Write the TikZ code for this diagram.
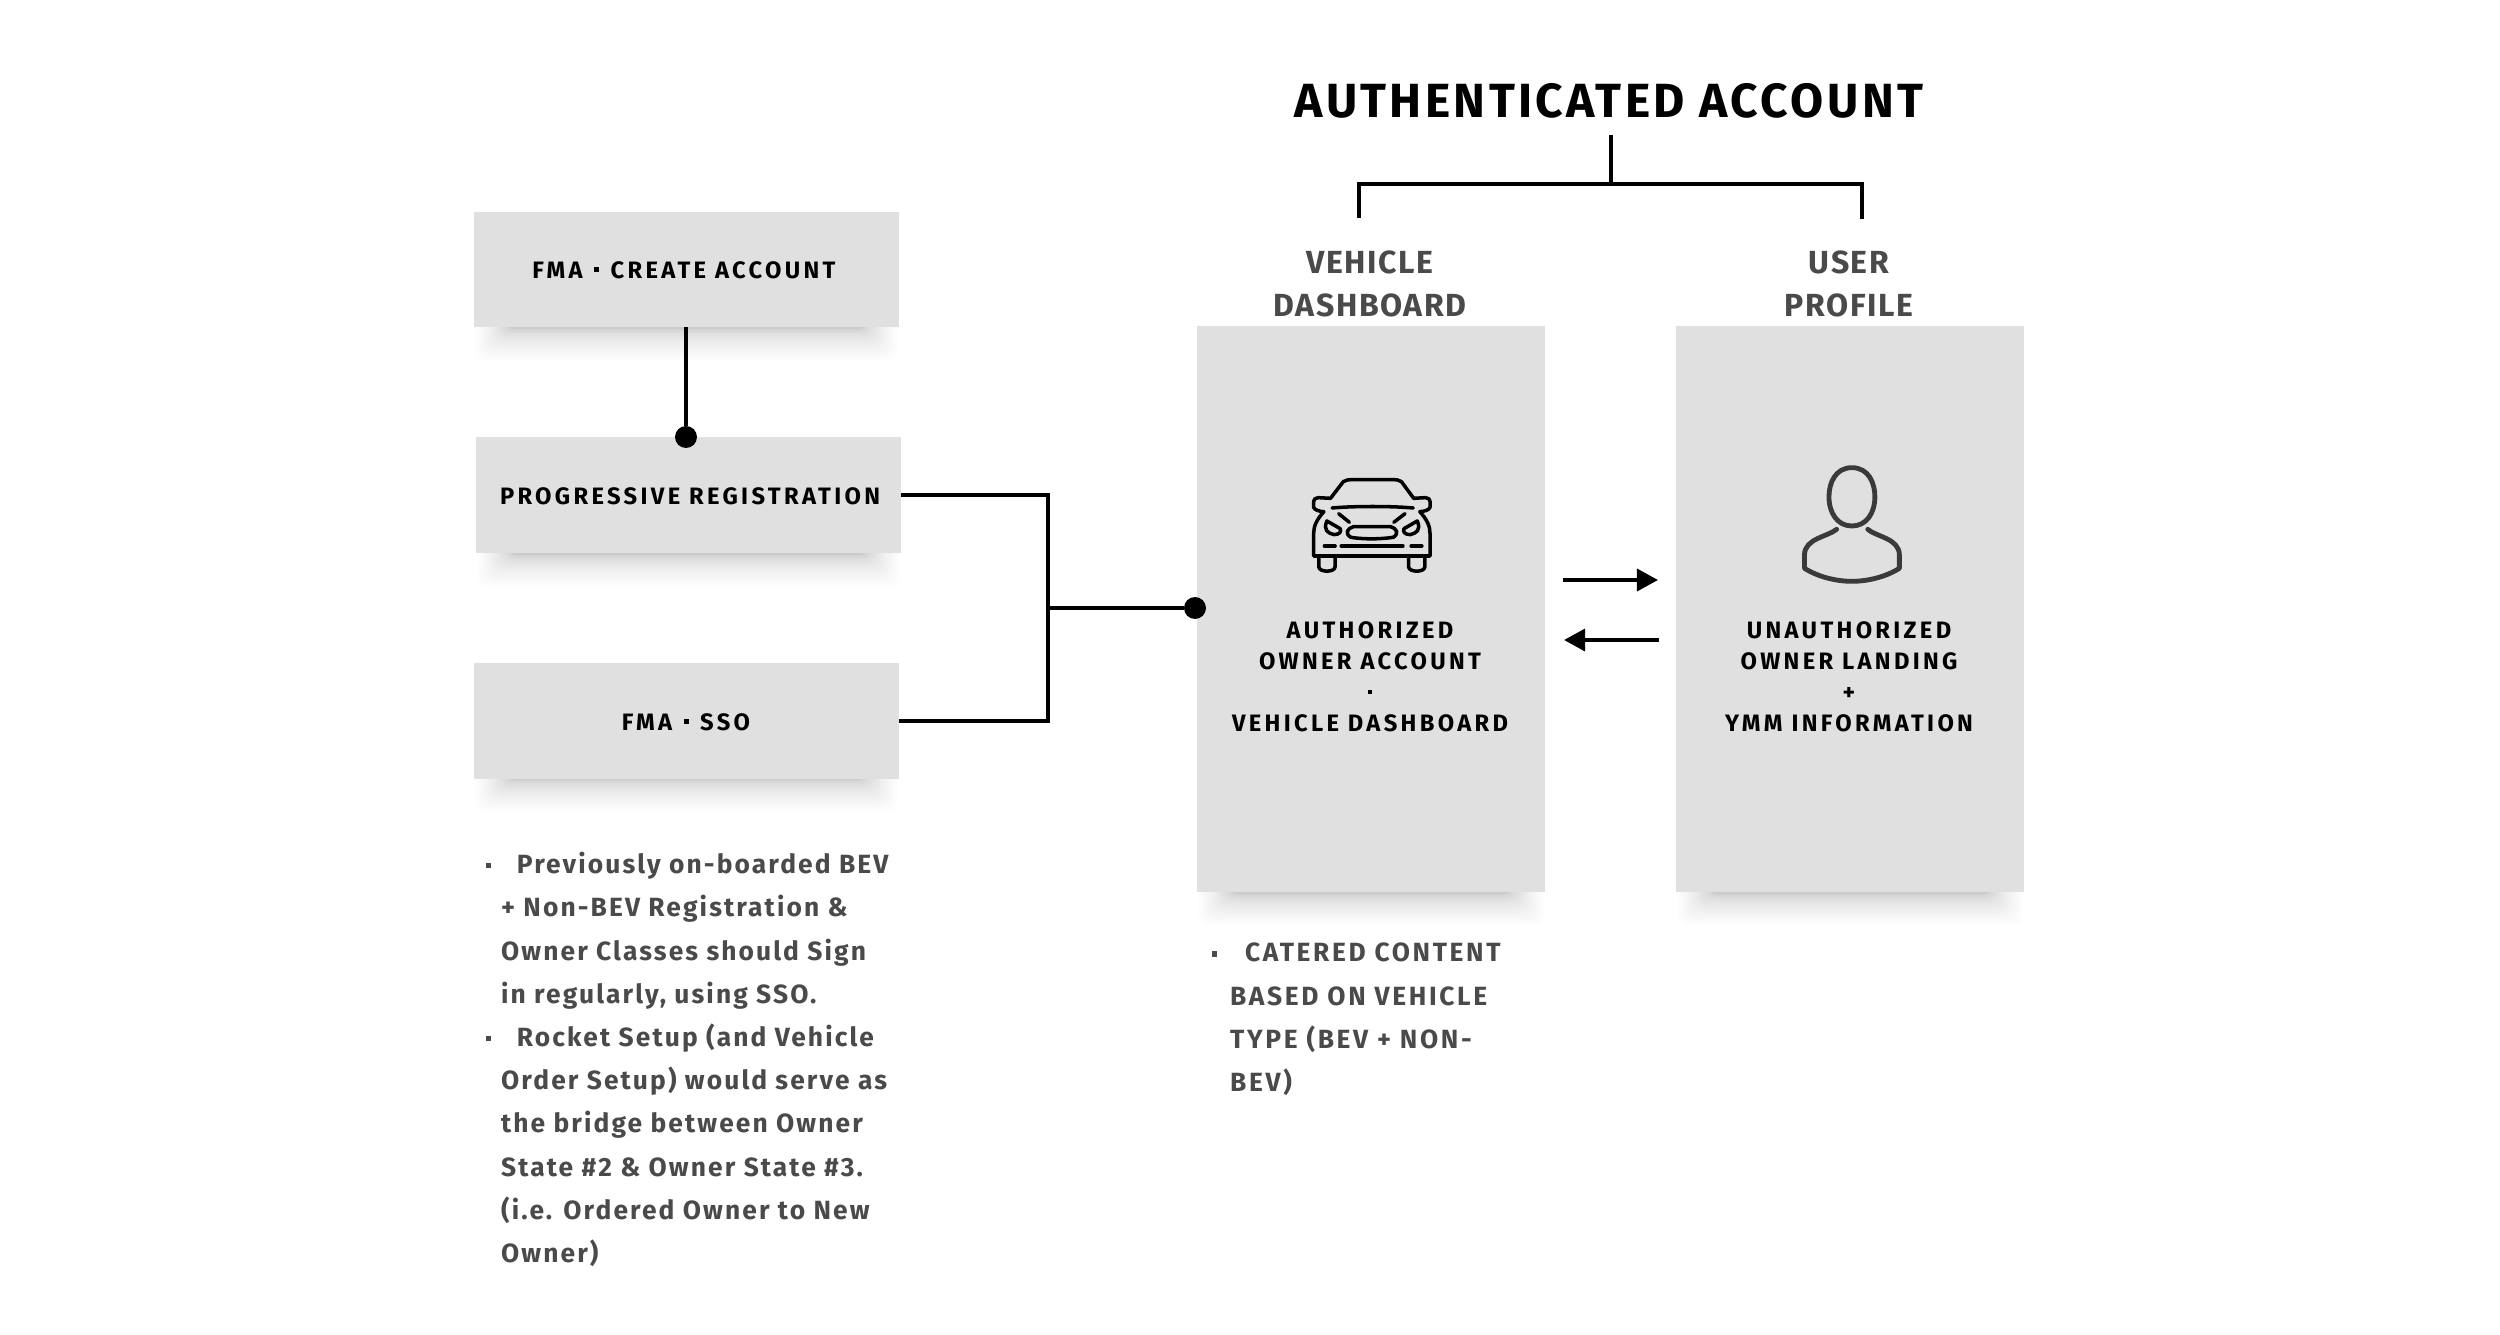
\documentclass[tikz,border=0pt]{standalone}
\usepackage{fontspec}
\setmainfont{Fira Sans}
\usetikzlibrary{arrows.meta,calc}
\definecolor{boxgray}{HTML}{E0E0E0}
\definecolor{inkgray}{HTML}{4A4A4A}
\definecolor{persongray}{HTML}{3A3A3A}
\newcommand{\softshadow}[3]{%
  \foreach \i in {1,...,26}{%
    \fill[black,opacity=0.0085,rounded corners=12] ({#1+32-\i*\i*0.045},#3-30) rectangle ({#2-32+\i*\i*0.045},{#3+2+\i*\i*0.047});
  }}
\newcommand{\sqbul}{\makebox[0pt][l]{\rule[6pt]{6pt}{6pt}}}
\newcommand{\sqdot}{\rule[7pt]{5.5pt}{5.5pt}}
\tikzset{
  x=0.04cm,y=-0.04cm,
  panel/.style={fill=boxgray,draw=none,inner sep=0,anchor=north west},
  boxlabel/.style={inner sep=0,anchor=base,font=\fontsize{27}{35.3}\selectfont\bfseries\addfontfeatures{LetterSpace=14},text=black},
  paneltext/.style={boxlabel,align=center,anchor=north},
  heading/.style={inner sep=0,anchor=north,align=center,text=inkgray,font=\fontsize{36.4}{49}\selectfont\bfseries\addfontfeatures{LetterSpace=5}},
  bodytext/.style={inner sep=0,anchor=north west,align=left,text=inkgray,font=\fontsize{30}{49.2}\selectfont\bfseries\addfontfeatures{LetterSpace=8}},
  capstext/.style={bodytext,font=\fontsize{30}{49.2}\selectfont\bfseries\addfontfeatures{LetterSpace=10}},
  wire/.style={line width=4.3pt,black},
  dotnode/.style={circle,fill=black,inner sep=0,minimum size=25pt},
  arrowline/.style={line width=4.3pt,black,-{Triangle[length=24pt,width=25pt]}},
  icon/.style={line width=4pt,black,line cap=round,line join=round},
  personicon/.style={line width=5.5pt,persongray,line cap=round,line join=round},
}
\begin{document}
\begin{tikzpicture}
\useasboundingbox (0,0) rectangle (2500,1334);
\fill[white] (0,0) rectangle (2500,1334);
% shadows
\softshadow{474}{899}{327}
\softshadow{476}{901}{553}
\softshadow{474}{899}{778}
\softshadow{1197}{1545}{892}
\softshadow{1676}{2024}{892}
% boxes
\node[panel,minimum width=483.6pt,minimum height=130.9pt] (b1) at (474,212) {};
\node[panel,minimum width=483.6pt,minimum height=132pt] (b2) at (476,437) {};
\node[panel,minimum width=483.6pt,minimum height=131.5pt] (b3) at (474,663) {};
\node[panel,minimum width=396pt,minimum height=644pt] (vd) at (1197,326) {};
\node[panel,minimum width=396pt,minimum height=644pt] (up) at (1676,326) {};
% box labels
\node[boxlabel] (l1) at (684,278) {FMA\hspace{3pt} \sqdot{} \hspace{3pt}CREATE ACCOUNT};
\node[boxlabel] (l2) at (690,504) {PROGRESSIVE REGISTRATION};
\node[boxlabel] (l3) at (686,730) {FMA\hspace{3pt} \sqdot{} \hspace{3pt}SSO};
\node[paneltext] (pt1) at (1370,621.5) {AUTHORIZED\\OWNER ACCOUNT\\\sqdot\\VEHICLE DASHBOARD};
\node[paneltext] (pt2) at (1849,621.5) {UNAUTHORIZED\\OWNER LANDING\\+\\YMM INFORMATION};
% headings
\node[inner sep=0,anchor=base,font=\fontsize{54.6}{70}\selectfont\bfseries\addfontfeatures{LetterSpace=7}] (title) at (1609,117) {AUTHENTICATED ACCOUNT};
\node[heading] (h1) at (1370,251) {VEHICLE\\DASHBOARD};
\node[heading] (h2) at (1849,251) {USER\\PROFILE};
% connectors
\node[dotnode] (d1) at (686,437) {};
\node[dotnode] (d2) at (1195,608) {};
\coordinate (trunk) at (1048,608);
\draw[wire] (686,327) -- (d1);
\draw[wire] (901,495) -| (trunk);
\draw[wire] (899,721) -| (trunk);
\draw[wire] (trunk) -- (d2);
\coordinate (brtop) at (1611,135);
\coordinate (brmid) at (1611,184);
\coordinate (brl) at (1359,218);
\coordinate (brr) at (1862,219);
\draw[wire] (brtop) -- (brmid);
\draw[wire,line join=miter] (brl) |- (brmid) -| (brr);
\coordinate (a1s) at (1563,580);
\coordinate (a1e) at (1658,580);
\coordinate (a2s) at (1659,640);
\coordinate (a2e) at (1564,640);
\draw[arrowline] (a1s) -- (a1e);
\draw[arrowline] (a2s) -- (a2e);
% icons (drawn in the coordinates of a magnified crop)
\begin{scope}[shift={(1180,420)},xscale=0.5102,yscale=0.3333]
  \draw[icon] (295,235) -- (320,185) .. controls (324,180) and (330,179) .. (340,179) -- (415,179) .. controls (425,179) and (430,180) .. (434,185) -- (458,235) -- (480,233) .. controls (488,235) and (490,238) .. (490,244) -- (490,262) .. controls (488,270) and (480,274) .. (470,275) .. controls (485,300) and (490,320) .. (490,340) -- (490,408) -- (262,408) -- (262,340) .. controls (262,320) and (267,300) .. (282,275) .. controls (272,274) and (264,270) .. (262,262) -- (262,244) .. controls (262,238) and (264,235) .. (272,233) -- cycle;
  \draw[icon] (298,264) .. controls (340,258) and (415,258) .. (457,264);
  \draw[icon] (272,408) -- (272,440) .. controls (272,458) and (304,458) .. (304,440) -- (304,408);
  \draw[icon] (448,408) -- (448,440) .. controls (448,458) and (480,458) .. (480,440) -- (480,408);
  \draw[icon] (288,303) -- (314,326) .. controls (316,335) and (314,343) .. (302,344) .. controls (290,340) and (280,330) .. (288,303) -- cycle;
  \draw[icon] (465,303) -- (439,326) .. controls (437,335) and (439,343) .. (451,344) .. controls (463,340) and (473,330) .. (465,303) -- cycle;
  \draw[icon] (311,281) -- (332,307);
  \draw[icon] (441,281) -- (419,307);
  \draw[icon] (340,320) -- (412,320) .. controls (425,325) and (430,340) .. (418,352) .. controls (390,358) and (360,358) .. (335,352) .. controls (322,340) and (328,325) .. (340,320) -- cycle;
  \draw[icon] (283,378) -- (304,378);
  \draw[icon] (316,378) -- (437,378);
  \draw[icon] (453,378) -- (474,378);
  \draw[personicon] (1317,143) .. controls (1350,143) and (1362,190) .. (1362,230) .. controls (1362,280) and (1345,318) .. (1317,318) .. controls (1289,318) and (1272,280) .. (1272,230) .. controls (1272,190) and (1284,143) .. (1317,143) -- cycle;
  \draw[personicon] (1287,328) .. controls (1270,350) and (1224,355) .. (1224,405) -- (1224,445) .. controls (1250,470) and (1285,484) .. (1317,484) .. controls (1349,484) and (1384,470) .. (1410,445) -- (1410,405) .. controls (1410,355) and (1364,350) .. (1348,328);
\end{scope}
% body text
\node[bodytext] (t1) at (486,852) {\sqbul\hspace*{35pt}Previously on-boarded BEV\\\hspace*{17pt}+ Non-BEV Registration \&\\\hspace*{17pt}Owner Classes should Sign\\\hspace*{17pt}in regularly, using SSO.\\\sqbul\hspace*{35pt}Rocket Setup (and Vehicle\\\hspace*{17pt}Order Setup) would serve as\\\hspace*{17pt}the bridge between Owner\\\hspace*{17pt}State \#2 \& Owner State \#3.\\\hspace*{17pt}(i.e. Ordered Owner to New\\\hspace*{17pt}Owner)};
\node[capstext] (t2) at (1212,943) {\sqbul\hspace*{37.5pt}CATERED CONTENT\\\hspace*{20.5pt}BASED ON VEHICLE\\\hspace*{20.5pt}TYPE (BEV + NON-\\\hspace*{20.5pt}BEV)};
\end{tikzpicture}
\end{document}
